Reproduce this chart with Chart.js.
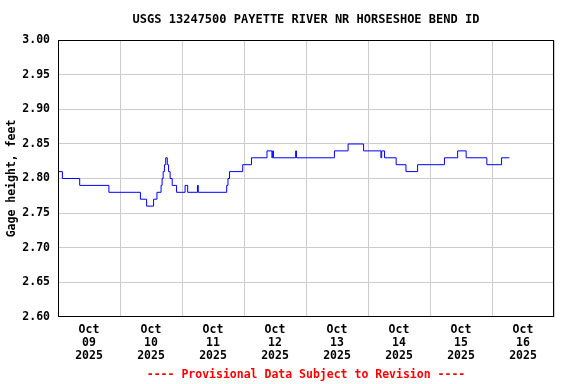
<!DOCTYPE html>
<html>
<head>
<meta charset="utf-8">
<script src="https://cdn.jsdelivr.net/npm/chart.js@4/dist/chart.umd.min.js"></script>
<style>
  html, body { margin: 0; padding: 0; background: #ffffff; }
  #c { display: block; }
</style>
</head>
<body>
<canvas id="c" width="576" height="384"></canvas>
<script>
// Hours since Oct 09 2025 00:00 at which each gage reading begins
const hours = [0, 1.7, 8.4, 19.7, 31.9, 34.3, 37.0, 38.3, 39.9, 40.3,
  40.7, 41.2, 41.7, 42.3, 42.8, 43.4, 44.2, 45.9, 49.2, 50.2,
  54.0, 54.3, 65.3, 65.8, 66.4, 71.5, 74.9, 80.9, 82.8, 83.1,
  83.4, 92.0, 92.3, 107.0, 112.3, 118.3, 125.0, 125.3, 126.4, 130.9,
  134.7, 139.2, 149.6, 154.7, 158.0, 166.0, 171.7, 174.7];
// Gage height, feet
const gageHeight = [2.81, 2.80, 2.79, 2.78, 2.77, 2.76, 2.77, 2.78, 2.79, 2.80,
  2.81, 2.82, 2.83, 2.82, 2.81, 2.80, 2.79, 2.78, 2.79, 2.78,
  2.79, 2.78, 2.79, 2.80, 2.81, 2.82, 2.83, 2.84, 2.83, 2.84,
  2.83, 2.84, 2.83, 2.84, 2.85, 2.84, 2.83, 2.84, 2.83, 2.82,
  2.81, 2.82, 2.83, 2.84, 2.83, 2.82, 2.83, 2.83];
// Day tick labels (placed at noon of each day)
const dayLabels = [
  ['Oct', '09', '2025'], ['Oct', '10', '2025'], ['Oct', '11', '2025'], ['Oct', '12', '2025'],
  ['Oct', '13', '2025'], ['Oct', '14', '2025'], ['Oct', '15', '2025'], ['Oct', '16', '2025']
];
const yMin = 2.60, yMax = 3.00, yStep = 0.05;
const titleText = 'USGS 13247500 PAYETTE RIVER NR HORSESHOE BEND ID';
const footerText = '---- Provisional Data Subject to Revision ----';
const yAxisTitle = 'Gage height, feet';

const MONO = "'DejaVu Sans Mono', 'Liberation Mono', monospace";

const points = hours.map((h, i) => ({ x: h, y: gageHeight[i] }));

const frame = {
  id: 'frame',
  afterDraw(chart) {
    const a = chart.chartArea;
    const ctx = chart.ctx;
    ctx.save();
    ctx.strokeStyle = '#000000';
    ctx.lineWidth = 1;
    const l = Math.round(a.left) + 0.5, t = Math.round(a.top) + 0.5;
    const r = Math.round(a.right) - 0.5, b = Math.round(a.bottom) - 0.5;
    ctx.strokeRect(l, t, r - l, b - t);
    ctx.restore();
  }
};

new Chart(document.getElementById('c'), {
  type: 'line',
  data: {
    datasets: [{
      data: points,
      borderColor: '#0000ff',
      borderWidth: 1,
      pointRadius: 0,
      stepped: true,
      fill: false,
      tension: 0
    }]
  },
  options: {
    responsive: false,
    animation: false,
    events: [],
    layout: { padding: { left: 0, right: 22, top: 0, bottom: 0 } },
    plugins: {
      legend: { display: false },
      tooltip: { enabled: false },
      title: {
        display: true,
        text: titleText,
        fullSize: false,
        color: '#000000',
        font: { family: MONO, size: 12, weight: 'bold' },
        padding: { top: 13, bottom: 13 }
      },
      subtitle: {
        display: true,
        text: footerText,
        position: 'bottom',
        fullSize: false,
        color: '#ff0000',
        font: { family: MONO, size: 11.5, weight: 'bold' },
        padding: { top: 0, bottom: 2 }
      }
    },
    scales: {
      x: {
        type: 'linear',
        min: 0,
        max: 192,
        afterFit(scale) { scale.height = 51.6; },
        border: { display: false },
        grid: {
          drawTicks: false,
          color: (ctx) => (ctx.tick && ctx.tick.value % 24 === 0) ? '#cccccc' : 'rgba(0,0,0,0)',
          lineWidth: 1
        },
        ticks: {
          stepSize: 12,
          autoSkip: false,
          maxRotation: 0,
          minRotation: 0,
          padding: 7,
          color: '#000000',
          font: { family: MONO, size: 11.5, weight: 'bold', lineHeight: '13px' },
          callback: (v) => (v % 24 === 12) ? dayLabels[(v - 12) / 24] : ''
        }
      },
      y: {
        type: 'linear',
        min: yMin,
        max: yMax,
        afterFit(scale) { scale.width = 58; },
        border: { display: false },
        grid: { drawTicks: false, color: '#cccccc', lineWidth: 1 },
        title: {
          display: true,
          text: yAxisTitle,
          color: '#000000',
          font: { family: MONO, size: 11.5, weight: 'bold' },
          padding: { top: 5, bottom: 0 }
        },
        ticks: {
          stepSize: yStep,
          padding: 8,
          color: '#000000',
          font: { family: MONO, size: 11.5, weight: 'bold' },
          callback: (v) => Number(v).toFixed(2)
        }
      }
    }
  },
  plugins: [frame]
});
</script>
</body>
</html>
